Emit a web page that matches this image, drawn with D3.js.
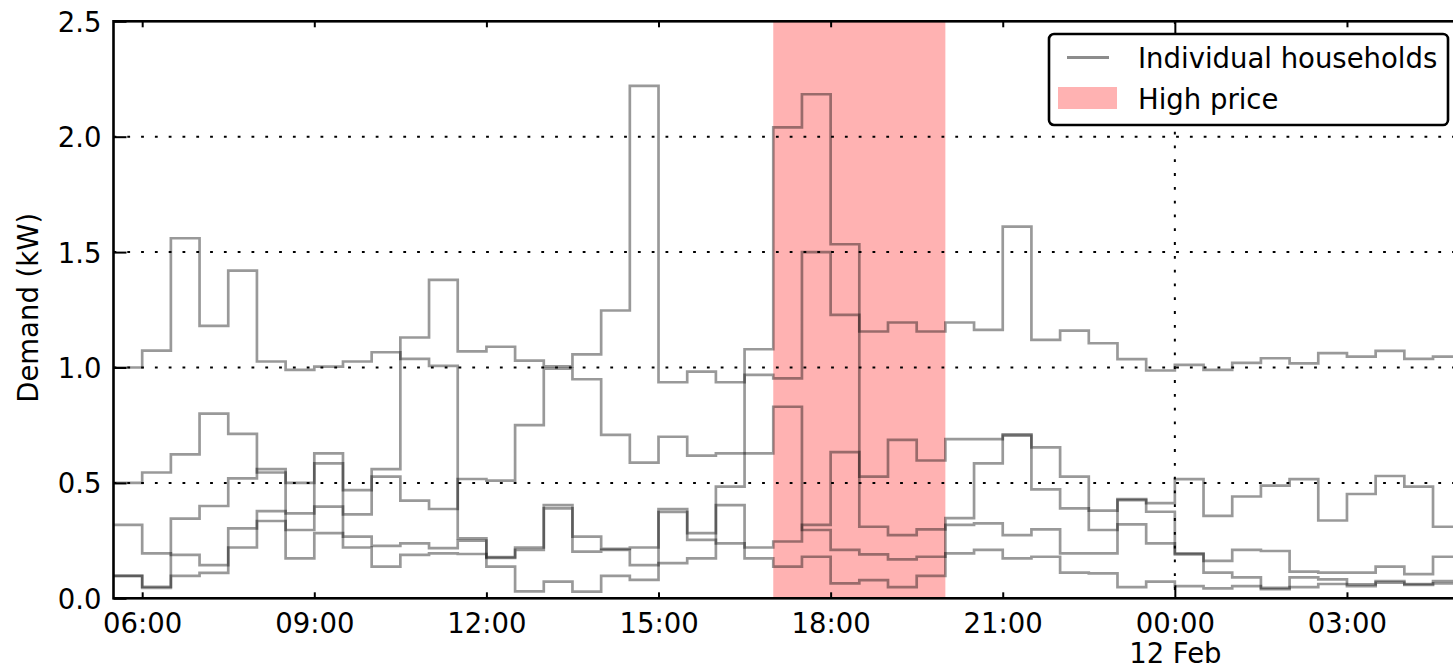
<!DOCTYPE html>
<html>
<head>
<meta charset="utf-8">
<script src="https://cdn.jsdelivr.net/npm/d3@7"></script>
<style>
    body { margin: 0; background: #fff; }
    svg { display: block; }
    text { font-family: "DejaVu Sans", sans-serif; fill: #000; }
</style>
</head>
<body>
<svg id="chart"></svg>
<script>
// half-hourly demand (kW) of five households, 05:30 on 11 Feb to 05:00 on 12 Feb
const house_a = [1.0, 1.073, 1.56, 1.18, 1.42, 1.026, 0.99, 1.004, 1.026, 1.066, 1.037, 1.007,
    0.26, 0.178, 0.22, 0.404, 0.267, 0.214, 0.22, 0.374, 0.253, 0.238, 0.173, 0.137,
    0.18, 0.065, 0.079, 0.048, 0.097, 0.347, 0.585, 0.71, 0.472, 0.39, 0.296, 0.425,
    0.412, 0.516, 0.357, 0.441, 0.488, 0.516, 0.337, 0.452, 0.53, 0.484, 0.31];
const house_b = [0.5, 0.545, 0.624, 0.80, 0.712, 0.545, 0.173, 0.282, 0.22, 0.137, 0.188, 0.195,
    0.192, 0.137, 0.03, 0.072, 0.029, 0.097, 0.08, 0.386, 0.282, 0.404, 0.22, 0.246,
    0.318, 0.633, 0.31, 0.274, 0.299, 0.318, 0.325, 0.274, 0.299, 0.195, 0.195, 0.32,
    0.238, 0.19, 0.111, 0.091, 0.045, 0.091, 0.082, 0.06, 0.075, 0.062, 0.075];
const house_c = [0.318, 0.195, 0.188, 0.144, 0.303, 0.335, 0.296, 0.585, 0.364, 0.527, 0.423, 0.387,
    0.517, 0.51, 0.75, 0.995, 0.949, 0.708, 0.588, 0.70, 0.618, 0.628, 0.628, 0.83,
    0.296, 0.21, 0.19, 0.169, 0.18, 0.195, 0.21, 0.173, 0.18, 0.111, 0.108, 0.048,
    0.072, 0.053, 0.043, 0.053, 0.04, 0.048, 0.062, 0.053, 0.068, 0.058, 0.065];
const house_d = [0.097, 0.05, 0.345, 0.40, 0.52, 0.56, 0.5, 0.628, 0.469, 0.56, 1.13, 1.38,
    1.07, 1.09, 1.03, 1.005, 1.057, 1.247, 2.22, 0.936, 0.982, 0.936, 0.968, 0.953,
    1.5, 1.228, 1.156, 1.195, 1.156, 1.195, 1.163, 1.61, 1.12, 1.16, 1.105, 1.036,
    0.987, 1.011, 0.99, 1.02, 1.04, 1.018, 1.062, 1.047, 1.072, 1.037, 1.047];
const house_e = [0.097, 0.045, 0.097, 0.11, 0.22, 0.378, 0.368, 0.397, 0.267, 0.227, 0.238, 0.217,
    0.25, 0.175, 0.21, 0.39, 0.202, 0.21, 0.144, 0.152, 0.173, 0.484, 1.079, 2.04,
    2.184, 1.534, 0.527, 0.686, 0.597, 0.69, 0.69, 0.705, 0.654, 0.527, 0.38, 0.43,
    0.375, 0.195, 0.162, 0.21, 0.205, 0.116, 0.111, 0.111, 0.137, 0.105, 0.18];
const households = [house_a, house_b, house_c, house_d, house_e];

const t_start = new Date(2015, 1, 11, 5, 30);
const t_end = new Date(2015, 1, 12, 5, 0);
const high_price = [new Date(2015, 1, 11, 17, 0), new Date(2015, 1, 11, 20, 0)];
const y_ticks = [0.0, 0.5, 1.0, 1.5, 2.0, 2.5];
const legend_items = ["Individual households", "High price"];

const width = 1453, height = 668;
const margin = { left: 113.5, top: 21.3, bottom: 69.7 };
const plot_right = 1461.7; // axes run a little past the picture edge
const font_size = 27.5;

const slots = d3.timeMinutes(t_start, t_end, 30);

const svg = d3.select("#chart")
    .attr("width", width)
    .attr("height", height);

const x = d3.scaleTime()
    .domain([t_start, t_end])
    .range([margin.left, plot_right]);
const y = d3.scaleLinear()
    .domain([0, 2.5])
    .range([height - margin.bottom, margin.top]);

// High price span
svg.append("rect")
    .attr("x", x(high_price[0]))
    .attr("y", y(2.5))
    .attr("width", x(high_price[1]) - x(high_price[0]))
    .attr("height", y(0) - y(2.5))
    .attr("fill", "red")
    .attr("fill-opacity", 0.3);

// dotted grid
const grid = svg.append("g").attr("class", "grid")
    .attr("stroke", "#000")
    .attr("stroke-width", 2)
    .attr("stroke-dasharray", "2.8,11");
grid.selectAll("line.h")
    .data(y_ticks.filter(d => d > 0 && d < 2.5))
    .enter().append("line")
    .attr("class", "h")
    .attr("x1", margin.left)
    .attr("x2", plot_right)
    .attr("y1", d => y(d))
    .attr("y2", d => y(d));
grid.append("line")
    .attr("x1", x(new Date(2015, 1, 12, 0, 0)))
    .attr("x2", x(new Date(2015, 1, 12, 0, 0)))
    .attr("y1", y(2.5))
    .attr("y2", y(0));

// step lines
const line = d3.line()
    .curve(d3.curveStepAfter)
    .x(d => x(d[0]))
    .y(d => y(d[1]));

svg.append("g")
    .attr("class", "households")
    .selectAll("path")
    .data(households)
    .enter().append("path")
    .attr("fill", "none")
    .attr("stroke", "#000")
    .attr("stroke-opacity", 0.4)
    .attr("stroke-width", 2.7)
    .attr("d", vals => {
        const pts = vals.map((v, i) => [slots[i], v]);
        pts.push([t_end, vals[vals.length - 1]]);
        return line(pts);
    });

// axes
const x_ticks = d3.timeHours(new Date(2015, 1, 11, 6, 0), t_end, 3);
const is_major = d => d.getHours() === 0;
const fmt = d3.timeFormat("%H:%M");
const fmt_day = d3.timeFormat("%-d %b");

const x_axis = svg.append("g")
    .attr("transform", `translate(0,${y(0)})`)
    .call(d3.axisBottom(x).tickValues(x_ticks).tickFormat(fmt).tickSize(-6));
x_axis.select(".domain").remove();
x_axis.selectAll(".tick line")
    .attr("stroke-width", 2)
    .attr("y2", d => is_major(d) ? -13 : -6);
x_axis.selectAll(".tick text")
    .attr("y", 34.5)
    .attr("dy", null)
    .attr("font-size", font_size)
    .attr("font-family", "DejaVu Sans");
// midnight label gets the date on a second line
x_axis.selectAll(".tick text")
    .filter(d => is_major(d))
    .text(null)
    .each(function(d) {
        const t = d3.select(this);
        t.append("tspan").attr("x", 0).text(fmt(d));
        t.append("tspan").attr("x", 0).attr("dy", 30.5).text(fmt_day(d));
    });

const x_top = svg.append("g")
    .attr("transform", `translate(0,${y(2.5)})`)
    .call(d3.axisTop(x).tickValues(x_ticks).tickFormat("").tickSize(-6));
x_top.select(".domain").remove();
x_top.selectAll(".tick line")
    .attr("stroke-width", 2)
    .attr("y2", d => is_major(d) ? 13 : 6);

const y_axis = svg.append("g")
    .attr("transform", `translate(${margin.left},0)`)
    .call(d3.axisLeft(y).tickValues(y_ticks).tickFormat(d3.format(".1f")).tickSize(-13).tickPadding(12));
y_axis.select(".domain").remove();
y_axis.selectAll(".tick line").attr("stroke-width", 2);
y_axis.selectAll(".tick text")
    .attr("font-size", font_size)
    .attr("font-family", "DejaVu Sans")
    .attr("dy", "0.36em");

// frame
svg.append("rect")
    .attr("x", margin.left)
    .attr("y", y(2.5))
    .attr("width", plot_right - margin.left)
    .attr("height", y(0) - y(2.5))
    .attr("fill", "none")
    .attr("stroke", "#000")
    .attr("stroke-width", 2.6);

svg.append("text")
    .attr("transform", `translate(38,${(y(0) + y(2.5)) / 2 - 2}) rotate(-90)`)
    .attr("text-anchor", "middle")
    .attr("font-size", font_size)
    .text("Demand (kW)");

// legend
const legend = svg.append("g").attr("transform", "translate(1049,34)");
legend.append("rect")
    .attr("width", 399)
    .attr("height", 91)
    .attr("rx", 5)
    .attr("fill", "#fff")
    .attr("stroke", "#000")
    .attr("stroke-width", 2.6);
legend.append("line")
    .attr("x1", 18).attr("x2", 60)
    .attr("y1", 23.5).attr("y2", 23.5)
    .attr("stroke", "#000")
    .attr("stroke-opacity", 0.45)
    .attr("stroke-width", 3);
legend.append("rect")
    .attr("x", 9).attr("y", 53)
    .attr("width", 59).attr("height", 22)
    .attr("fill", "red")
    .attr("fill-opacity", 0.3);
legend.selectAll("text.item")
    .data(legend_items)
    .enter().append("text")
    .attr("class", "item")
    .attr("x", 89)
    .attr("y", (d, i) => 34 + i * 40.5)
    .attr("font-size", font_size)
    .text(d => d);
</script>
</body>
</html>
